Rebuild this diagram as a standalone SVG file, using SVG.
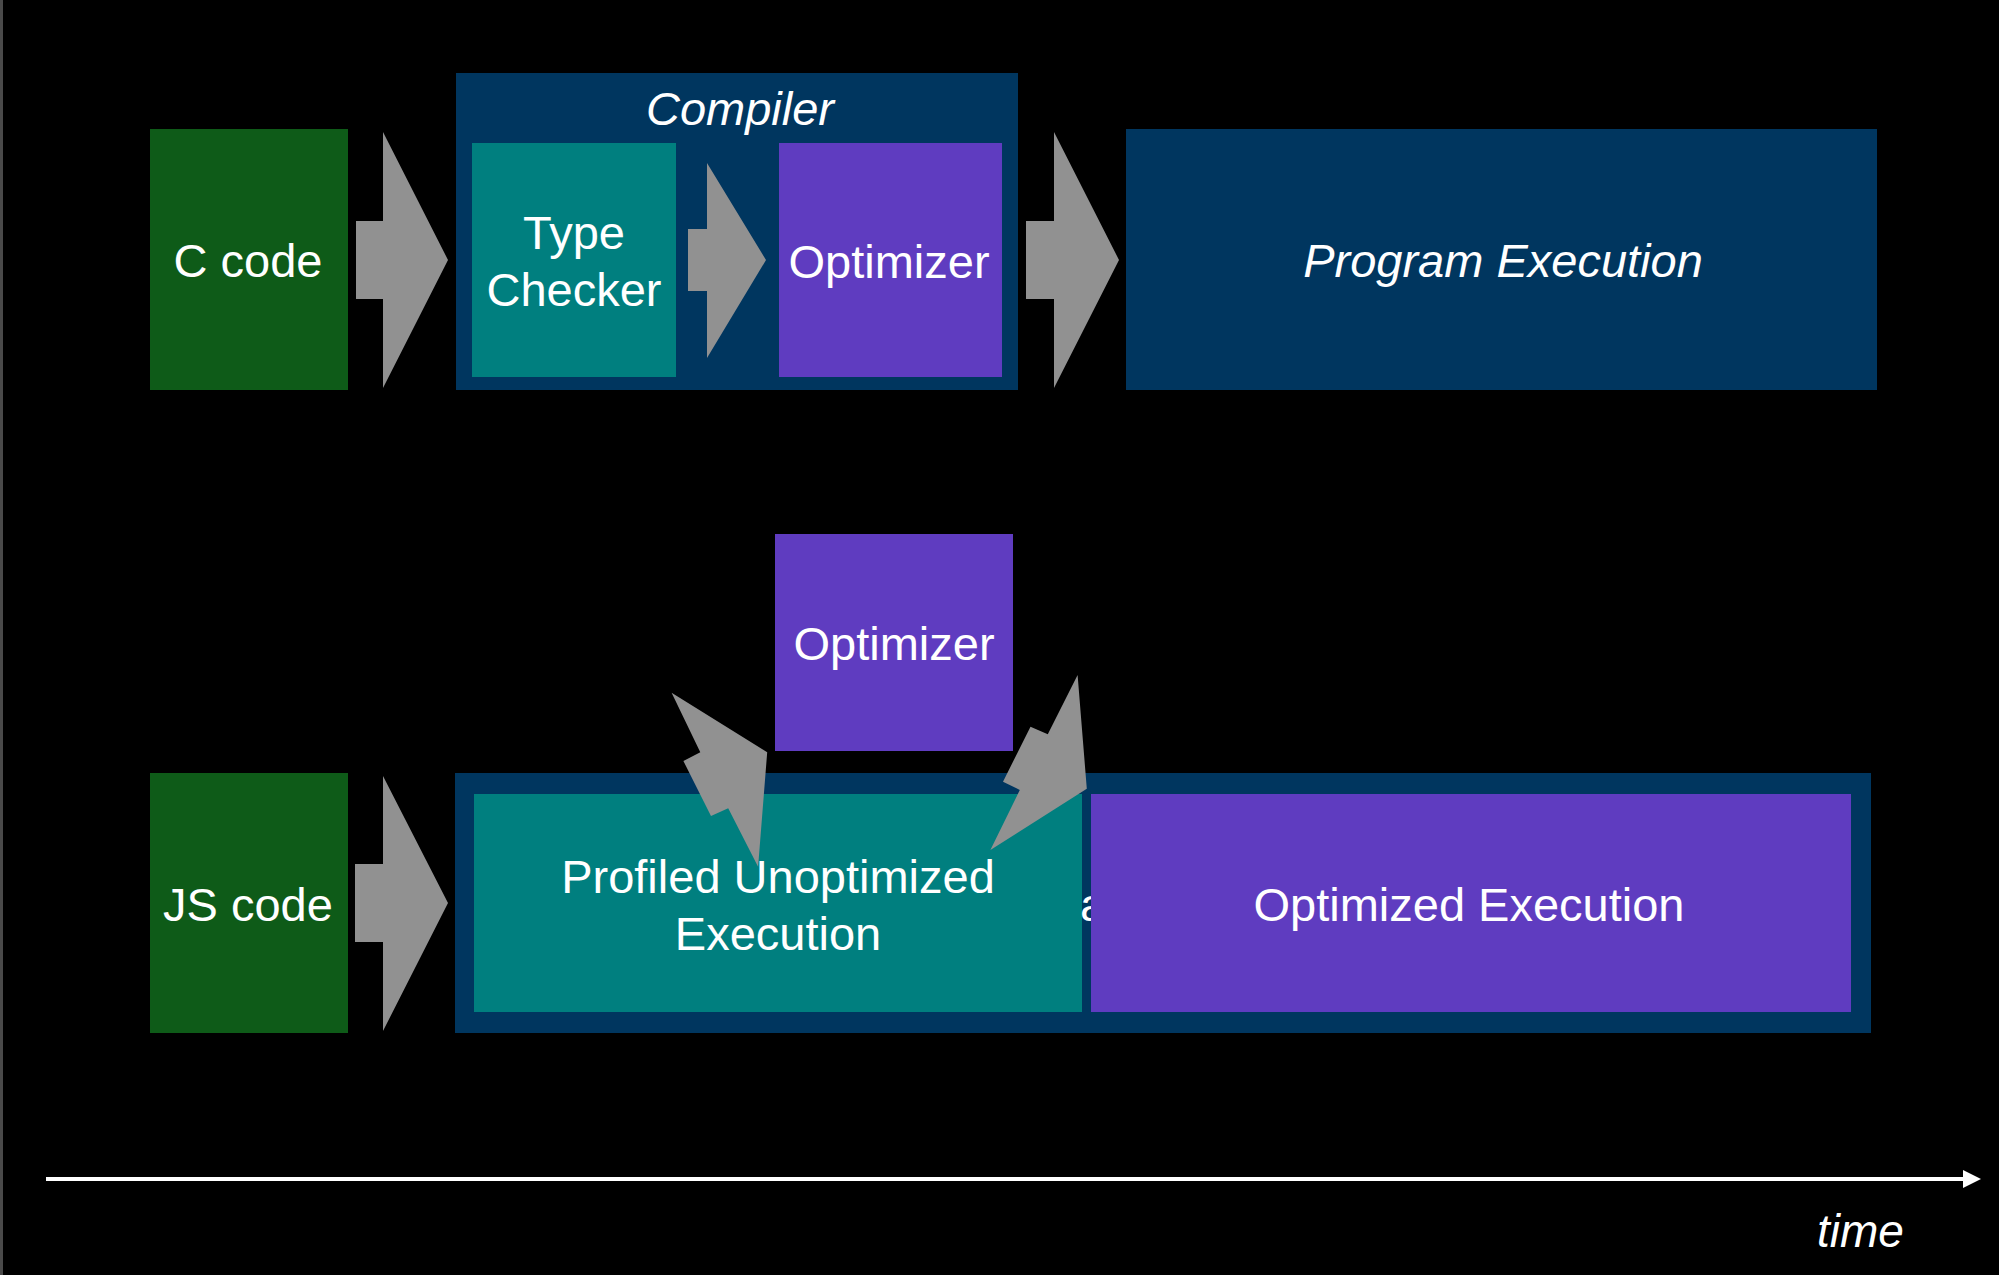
<svg xmlns="http://www.w3.org/2000/svg" width="1999" height="1275" viewBox="0 0 1999 1275">
<style>
.green{fill:#0e5b18}
.navy{fill:#00365f}
.teal{fill:#007f7f}
.purple{fill:#5f3cc0}
.arrow{fill:#919191}
.t{font-family:"Liberation Sans",Arial,sans-serif;font-size:47px;fill:#ffffff;text-anchor:middle}
.i{font-style:italic}
</style>
<rect x="0" y="0" width="1999" height="1275" fill="#000000"/>
<rect x="0" y="0" width="3" height="1275" fill="#4a4a4a"/>

<g id="c-code">
<rect class="green" x="150" y="129" width="198" height="261"/>
<text class="t" x="248" y="277">C code</text>
</g>

<g id="compiler">
<rect class="navy" x="456" y="73" width="562" height="317"/>
<text class="t i" x="740" y="125">Compiler</text>
</g>

<g id="type-checker">
<rect class="teal" x="472" y="143" width="204" height="234"/>
<text class="t" x="574" y="249">Type</text>
<text class="t" x="574" y="306">Checker</text>
</g>

<g id="optimizer-top">
<rect class="purple" x="779" y="143" width="223" height="234"/>
<text class="t" x="889" y="278">Optimizer</text>
</g>

<g id="program-execution">
<rect class="navy" x="1126" y="129" width="751" height="261"/>
<text class="t i" x="1503" y="277">Program Execution</text>
</g>

<g id="js-code">
<rect class="green" x="150" y="773" width="198" height="260"/>
<text class="t" x="248" y="921">JS code</text>
</g>

<g id="runtime">
<rect class="navy" x="455" y="773" width="1416" height="260"/>
</g>

<g id="profiled-unoptimized-execution">
<rect class="teal" x="474" y="794" width="608" height="218"/>
<text class="t" x="778" y="893">Profiled Unoptimized</text>
<text class="t" x="778" y="950">Execution</text>
</g>

<text class="t" x="1080" y="921" style="text-anchor:start">a</text>

<g id="optimized-execution">
<rect class="purple" x="1091" y="794" width="760" height="218"/>
<text class="t" x="1469" y="921">Optimized Execution</text>
</g>

<g id="optimizer-bottom">
<rect class="purple" x="775" y="534" width="238" height="217"/>
<text class="t" x="894" y="660">Optimizer</text>
</g>

<g id="connectors">
<polygon class="arrow" points="356,221 383,221 383,132 448,260 383,388 383,299 356,299"/>
<polygon class="arrow" points="688,229 707,229 707,163 766,260 707,358 707,291 688,291"/>
<polygon class="arrow" points="1026,221 1054,221 1054,132 1119,260 1054,388 1054,299 1026,299"/>
<polygon class="arrow" points="355,864 383,864 383,776 448,903 383,1031 383,942 355,942"/>
<polygon class="arrow" points="671.6,692.7 767.2,752.3 758.1,866.7 728.2,808.3 711,816 683.4,761 700.3,752.3"/>
<polygon class="arrow" points="1077.6,675 1086.8,788.7 990.4,850 1019.8,790 1003,781.7 1030.5,726.7 1047.8,734.3"/>
</g>

<g id="time-axis">
<line x1="46" y1="1179" x2="1966" y2="1179" stroke="#ffffff" stroke-width="4"/>
<polygon points="1963,1170 1981,1179 1963,1188" fill="#ffffff"/>
<text class="t i" x="1817" y="1247" style="text-anchor:start;font-size:46px">time</text>
</g>
</svg>
